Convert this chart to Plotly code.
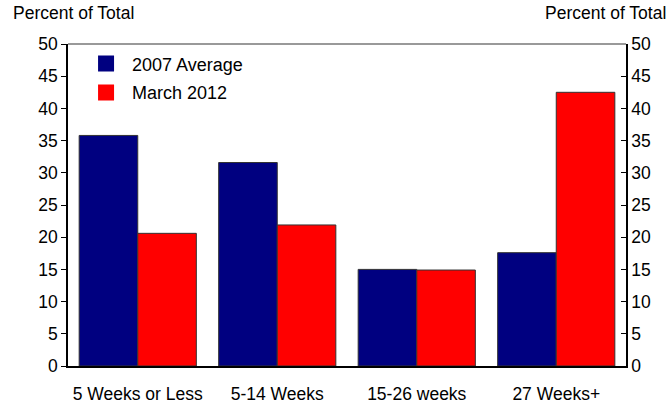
import plotly.graph_objects as go

categories = ["5 Weeks or Less", "5-14 Weeks", "15-26 weeks", "27 Weeks+"]
avg_2007 = [35.8, 31.6, 15.0, 17.6]
march_2012 = [20.6, 21.9, 14.9, 42.5]
tick_vals = [0, 5, 10, 15, 20, 25, 30, 35, 40, 45, 50]
series_names = ["2007 Average", "March 2012"]
series_colors = ["#000080", "#FF0000"]

FONT = "Liberation Sans, Arial, sans-serif"

fig = go.Figure()
for name, vals, col in zip(series_names, [avg_2007, march_2012], series_colors):
    fig.add_trace(go.Bar(name=name, x=categories, y=vals, showlegend=False,
                         marker=dict(color=col, line=dict(color="#333333", width=1))))
# legend-only entries with larger square swatches
for name, col in zip(series_names, series_colors):
    fig.add_trace(go.Scatter(name=name, x=[None], y=[None], mode="markers",
                             legendgroup=name,
                             marker=dict(symbol="square", size=16, color=col),
                             hoverinfo="skip"))
# invisible trace to carry the right axis
fig.add_trace(go.Scatter(x=categories, y=march_2012, yaxis="y2", mode="none",
                         showlegend=False, hoverinfo="skip"))

fig.update_layout(
    width=671, height=404,
    margin=dict(l=68, r=45, t=44, b=38, autoexpand=False),
    paper_bgcolor="white", plot_bgcolor="white",
    barmode="group", bargap=0.16, bargroupgap=0,
    font=dict(family=FONT, size=17.5, color="black"),
    showlegend=True,
    legend=dict(x=0.0216, y=0.996, xanchor="left", yanchor="top",
                bgcolor="rgba(0,0,0,0)", font=dict(size=18),
                itemwidth=42, tracegroupgap=2.5),
    xaxis=dict(showline=True, linecolor="black", linewidth=1.5, ticks="",
               showgrid=False, ticklabelstandoff=11, mirror=False, automargin=False),
    yaxis=dict(range=[0, 50], tickvals=tick_vals, showline=True, linecolor="black",
               linewidth=1.5, ticks="outside", ticklen=5, tickcolor="black",
               showgrid=False, zeroline=False, automargin=False),
    yaxis2=dict(range=[0, 50], tickvals=tick_vals, overlaying="y", side="right",
                showline=True, linecolor="black", linewidth=1.5, ticks="inside",
                ticklen=5, tickcolor="black", showgrid=False, zeroline=False,
                automargin=False),
    shapes=[dict(type="line", xref="paper", yref="paper", x0=0, x1=1, y0=1, y1=1,
                 line=dict(color="#777777", width=1.5))],
    annotations=[
        dict(text="Percent of Total", xref="paper", yref="paper", x=-57/558, y=1,
             xanchor="left", yanchor="bottom", yshift=19, showarrow=False,
             font=dict(size=17.5)),
        dict(text="Percent of Total", xref="paper", yref="paper", x=1 + 42/558, y=1,
             xanchor="right", yanchor="bottom", yshift=19, showarrow=False,
             font=dict(size=17.5)),
    ],
)

fig.write_html("out.html", config={"displayModeBar": False},
               post_script="document.body.style.margin='0';")
